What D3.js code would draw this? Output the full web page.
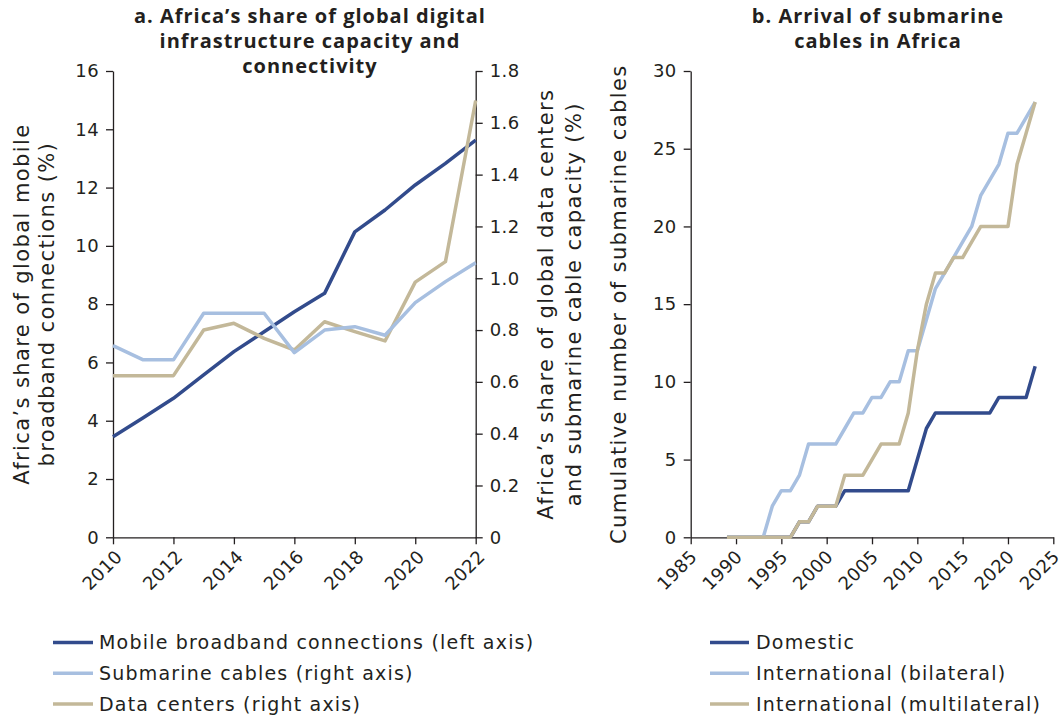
<!DOCTYPE html>
<html>
<head>
<meta charset="utf-8">
<script src="https://cdn.jsdelivr.net/npm/d3@7"></script>
<style>
  html, body { margin: 0; padding: 0; background: #fff; }
  svg text { font-family: "DejaVu Sans", "Open Sans", sans-serif; fill: #231f20; }
  .title { font-family: "Open Sans", "Noto Sans", sans-serif; font-weight: 700; letter-spacing: 1px; }
  .axis-title { letter-spacing: 1.4px; }
  .legend-text { letter-spacing: 1.2px; }
  .tick-text { letter-spacing: 0.4px; }
  .axis path, .axis line { stroke: #231f20; stroke-width: 1.3; }
</style>
</head>
<body>
<svg id="chart" width="1063" height="717"></svg>
<script>
// Panel a: Africa's share of global digital infrastructure (annual, 2010–2022)
const yearsA = [2010, 2011, 2012, 2013, 2014, 2015, 2016, 2017, 2018, 2019, 2020, 2021, 2022];
const mobileBroadband = [3.45, 4.1, 4.77, 5.57, 6.37, 7.05, 7.74, 8.37, 10.48, 11.23, 12.09, 12.83, 13.63]; // % (left axis)
const submarineCables = [0.74, 0.685, 0.685, 0.865, 0.865, 0.865, 0.713, 0.80, 0.813, 0.78, 0.906, 0.987, 1.06]; // % (right axis)
const dataCenters = [0.624, 0.624, 0.624, 0.80, 0.826, 0.768, 0.723, 0.832, 0.794, 0.758, 0.985, 1.064, 1.686]; // % (right axis)
const leftTicksA = [0, 2, 4, 6, 8, 10, 12, 14, 16];
const rightTicksA = [0, 0.2, 0.4, 0.6, 0.8, 1.0, 1.2, 1.4, 1.6, 1.8];
const xTicksA = [2010, 2012, 2014, 2016, 2018, 2020, 2022];

// Panel b: cumulative number of submarine cables arriving in Africa (1989–2023)
const yearsB = d3.range(1989, 2024);
const domestic = [0, 0, 0, 0, 0, 0, 0, 0, 1, 1, 2, 2, 2, 3, 3, 3, 3, 3, 3, 3, 3, 5, 7, 8, 8, 8, 8, 8, 8, 8, 9, 9, 9, 9, 11];
const bilateral = [0, 0, 0, 0, 0, 2, 3, 3, 4, 6, 6, 6, 6, 7, 8, 8, 9, 9, 10, 10, 12, 12, 14, 16, 17, 18, 19, 20, 22, 23, 24, 26, 26, 27, 28];
const multilateral = [0, 0, 0, 0, 0, 0, 0, 0, 1, 1, 2, 2, 2, 4, 4, 4, 5, 6, 6, 6, 8, 12, 15, 17, 17, 18, 18, 19, 20, 20, 20, 20, 24, 26, 28];
const yTicksB = [0, 5, 10, 15, 20, 25, 30];
const xTicksB = [1985, 1990, 1995, 2000, 2005, 2010, 2015, 2020, 2025];

const NAVY = "#324b8c", LIGHT = "#a7bfe0", TAN = "#c3b899";
const TICK_FONT = "18px", TITLE_FONT = "21px", LEGEND_FONT = "19px";

const svg = d3.select("#chart");

// ---------- Panel a ----------
const xA = d3.scaleLinear().domain([2010, 2022]).range([113, 475.7]);
const yL = d3.scaleLinear().domain([0, 16]).range([537.3, 71]);
const yR = d3.scaleLinear().domain([0, 1.8]).range([537.3, 71]);

const gA = svg.append("g");

gA.append("g").attr("class", "axis")
  .attr("transform", `translate(0,${yL(0)})`)
  .call(d3.axisBottom(xA).tickValues(xTicksA).tickSize(7).tickSizeOuter(0).tickFormat(d3.format("d")))
  .call(g => g.selectAll("text").remove());

gA.append("g").attr("class", "axis")
  .attr("transform", `translate(${xA(2010)},0)`)
  .call(d3.axisLeft(yL).tickValues(leftTicksA).tickSize(7).tickSizeOuter(0).tickPadding(7))
  .call(g => g.selectAll("text").attr("class", "tick-text").style("font-size", TICK_FONT).attr("fill", "#231f20"));

gA.append("g").attr("class", "axis")
  .attr("transform", `translate(${xA(2022)},0)`)
  .call(d3.axisRight(yR).tickValues(rightTicksA).tickSize(7).tickSizeOuter(0).tickPadding(7)
        .tickFormat(d => d === 0 ? "0" : d3.format(".1f")(d)))
  .call(g => g.selectAll("text").attr("class", "tick-text").style("font-size", TICK_FONT).attr("fill", "#231f20"));

gA.append("g").selectAll("text").data(xTicksA).join("text")
  .attr("class", "tick-text")
  .attr("transform", d => `translate(${xA(d) + 6},${yL(0) + 16}) rotate(-45)`)
  .attr("text-anchor", "end")
  .attr("dy", "0.35em")
  .style("font-size", TICK_FONT)
  .text(d => d);

const lineMobile = d3.line().x((d, i) => xA(yearsA[i])).y(d => yL(d));
const lineRight = d3.line().x((d, i) => xA(yearsA[i])).y(d => yR(d));

gA.append("path").datum(mobileBroadband).attr("d", lineMobile)
  .attr("fill", "none").attr("stroke", NAVY).attr("stroke-width", 3.5).attr("stroke-linejoin", "round");
gA.append("path").datum(dataCenters).attr("d", lineRight)
  .attr("fill", "none").attr("stroke", TAN).attr("stroke-width", 3.5).attr("stroke-linejoin", "round");
gA.append("path").datum(submarineCables).attr("d", lineRight)
  .attr("fill", "none").attr("stroke", LIGHT).attr("stroke-width", 3.5).attr("stroke-linejoin", "round");

// axis titles
const midA = (yL(0) + yL(16)) / 2;
const leftTitle = gA.append("text").attr("class", "axis-title")
  .attr("transform", `translate(29,${midA}) rotate(-90)`)
  .attr("text-anchor", "middle").style("font-size", TITLE_FONT);
leftTitle.append("tspan").attr("x", 0).attr("dy", 0).text("Africa’s share of global mobile");
leftTitle.append("tspan").attr("x", 0).attr("dy", 25).text("broadband connections (%)");

const rightTitle = gA.append("text").attr("class", "axis-title")
  .attr("transform", `translate(553,${midA}) rotate(-90)`)
  .attr("text-anchor", "middle").style("font-size", TITLE_FONT);
rightTitle.append("tspan").attr("x", 0).attr("dy", 0).text("Africa’s share of global data centers");
rightTitle.append("tspan").attr("x", 0).attr("dy", 28).text("and submarine cable capacity (%)");

// panel title
const titleA = gA.append("text").attr("class", "title")
  .attr("x", 310).attr("y", 23).attr("text-anchor", "middle").style("font-size", "20px");
["a. Africa’s share of global digital", "infrastructure capacity and", "connectivity"].forEach((t, i) =>
  titleA.append("tspan").attr("x", 310).attr("dy", i === 0 ? 0 : 25).text(t));

// legend
const legendA = [
  { label: "Mobile broadband connections (left axis)", color: NAVY },
  { label: "Submarine cables (right axis)", color: LIGHT },
  { label: "Data centers (right axis)", color: TAN }
];
const lgA = gA.append("g").selectAll("g").data(legendA).join("g")
  .attr("transform", (d, i) => `translate(53,${642.5 + i * 30.7})`);
lgA.append("line").attr("x1", 0).attr("x2", 40).attr("stroke", d => d.color).attr("stroke-width", 3.5);
lgA.append("text").attr("class", "legend-text").attr("x", 46).attr("dy", "0.35em")
  .style("font-size", LEGEND_FONT).text(d => d.label);

// ---------- Panel b ----------
const xB = d3.scaleLinear().domain([1985, 2025]).range([690.7, 1053.3]);
const yB = d3.scaleLinear().domain([0, 30]).range([537.3, 71]);
const gB = svg.append("g");

gB.append("g").attr("class", "axis")
  .attr("transform", `translate(0,${yB(0)})`)
  .call(d3.axisBottom(xB).tickValues(xTicksB).tickSize(7).tickSizeOuter(0))
  .call(g => g.selectAll("text").remove());

gB.append("g").attr("class", "axis")
  .attr("transform", `translate(${xB(1985)},0)`)
  .call(d3.axisLeft(yB).tickValues(yTicksB).tickSize(7).tickSizeOuter(0).tickPadding(7))
  .call(g => g.selectAll("text").attr("class", "tick-text").style("font-size", TICK_FONT).attr("fill", "#231f20"));

gB.append("g").selectAll("text").data(xTicksB).join("text")
  .attr("class", "tick-text")
  .attr("transform", d => `translate(${xB(d) + 3},${yB(0) + 16}) rotate(-45)`)
  .attr("text-anchor", "end")
  .attr("dy", "0.35em")
  .style("font-size", TICK_FONT)
  .text(d => d);

const lineB = d3.line().x((d, i) => xB(yearsB[i])).y(d => yB(d));
[[domestic, NAVY], [bilateral, LIGHT], [multilateral, TAN]].forEach(([s, c]) =>
  gB.append("path").datum(s).attr("d", lineB)
    .attr("fill", "none").attr("stroke", c).attr("stroke-width", 3.5).attr("stroke-linejoin", "round"));

gB.append("text").attr("class", "axis-title")
  .attr("transform", `translate(626,${(yB(0) + yB(30)) / 2}) rotate(-90)`)
  .attr("text-anchor", "middle").style("font-size", TITLE_FONT)
  .text("Cumulative number of submarine cables");

const titleB = gB.append("text").attr("class", "title")
  .attr("x", 878).attr("y", 23).attr("text-anchor", "middle").style("font-size", "20px");
["b. Arrival of submarine", "cables in Africa"].forEach((t, i) =>
  titleB.append("tspan").attr("x", 878).attr("dy", i === 0 ? 0 : 25).text(t));

const legendB = [
  { label: "Domestic", color: NAVY },
  { label: "International (bilateral)", color: LIGHT },
  { label: "International (multilateral)", color: TAN }
];
const lgB = gB.append("g").selectAll("g").data(legendB).join("g")
  .attr("transform", (d, i) => `translate(710,${642.5 + i * 30.7})`);
lgB.append("line").attr("x1", 0).attr("x2", 39).attr("stroke", d => d.color).attr("stroke-width", 3.5);
lgB.append("text").attr("class", "legend-text").attr("x", 46).attr("dy", "0.35em")
  .style("font-size", LEGEND_FONT).text(d => d.label);
</script>
</body>
</html>
